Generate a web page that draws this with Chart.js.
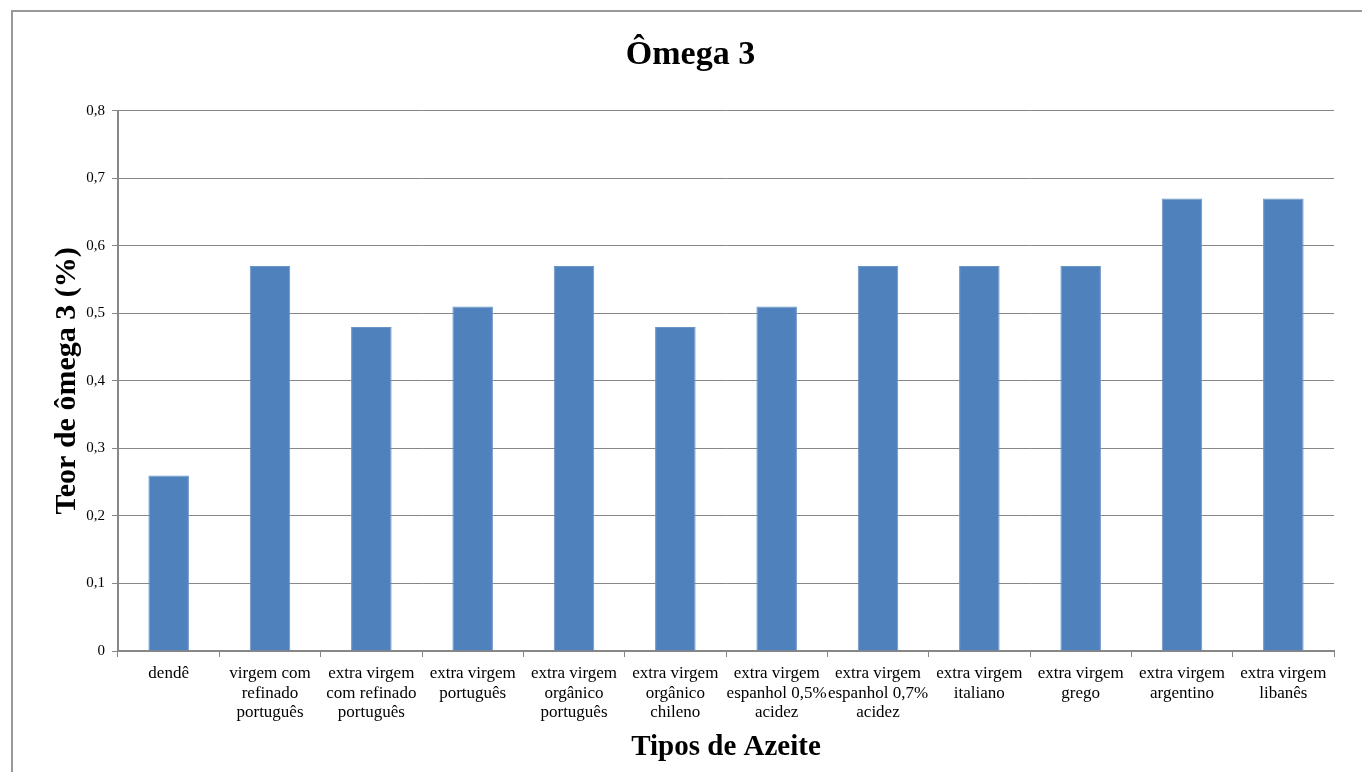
<!DOCTYPE html>
<html>
<head>
<meta charset="utf-8">
<script src="https://cdn.jsdelivr.net/npm/chart.js@4"></script>
<style>
  html, body { margin: 0; padding: 0; background: #fff; overflow: hidden; }
  #frame { position: absolute; left: 11px; top: 10px; width: 1400px; height: 800px; border: 2px solid #999; }
  #wrap { position: absolute; left: 0; top: 0; width: 1362px; height: 772px; }
</style>
</head>
<body>
<div id="frame"></div>
<div id="wrap"><canvas id="chartBar"></canvas></div>
<script>
const categories = [
  ["dendê"],
  ["virgem com", "refinado", "português"],
  ["extra virgem", "com refinado", "português"],
  ["extra virgem", "português"],
  ["extra virgem", "orgânico", "português"],
  ["extra virgem", "orgânico", "chileno"],
  ["extra virgem", "espanhol 0,5%", "acidez"],
  ["extra virgem", "espanhol 0,7%", "acidez"],
  ["extra virgem", "italiano"],
  ["extra virgem", "grego"],
  ["extra virgem", "argentino"],
  ["extra virgem", "libanês"]
];
const omega3 = [0.26, 0.57, 0.48, 0.51, 0.57, 0.48, 0.51, 0.57, 0.57, 0.57, 0.67, 0.67];
const yTicks = [0, 0.1, 0.2, 0.3, 0.4, 0.5, 0.6, 0.7, 0.8];

const SERIF = "'Liberation Serif', 'Times New Roman', serif";
const GRID = "#878787";

const ctx = document.getElementById("chartBar").getContext("2d");
const chart = new Chart(ctx, {
  type: "bar",
  data: {
    labels: categories,
    datasets: [
      { label: "Ômega 3", data: omega3, backgroundColor: "#4F81BD", borderColor: "#6a93c6", borderWidth: 1,
        categoryPercentage: 1, barPercentage: 0.4 }
    ]
  },
  options: {
    responsive: true,
    maintainAspectRatio: false,
    animation: false,
    layout: { padding: { left: 47, right: 28, top: 0, bottom: 0 } },
    plugins: {
      legend: { display: false },
      tooltip: { enabled: false },
      title: {
        display: true,
        text: "Ômega 3",
        color: "#000",
        font: { family: SERIF, size: 34, weight: "bold" },
        padding: { top: 35, bottom: 35 }
      }
    },
    scales: {
      y: {
        min: 0, max: 0.8,
        afterBuildTicks: s => { s.ticks = yTicks.map(v => ({ value: v })); },
        afterFit: s => { s.width = 71; },
        ticks: {
          color: "#000",
          font: { family: SERIF, size: 15 },
          padding: 7,
          callback: v => String(Math.round(v * 10) / 10).replace(".", ",")
        },
        grid: { color: GRID, lineWidth: 1, tickLength: 6, tickColor: GRID },
        border: { color: GRID, width: 2 },
        title: {
          display: true,
          text: "Teor de ômega 3 (%)",
          color: "#000",
          font: { family: SERIF, size: 30, weight: "bold" },
          padding: { top: 2, bottom: 0 }
        }
      },
      x: {
        afterFit: s => { s.height = 121; },
        ticks: {
          color: "#000",
          font: { family: SERIF, size: 17, lineHeight: 1.15 },
          maxRotation: 0,
          autoSkip: false,
          padding: 7
        },
        grid: { drawOnChartArea: false, color: GRID, tickLength: 6, offset: true },
        border: { color: GRID, width: 2 },
        title: {
          display: true,
          text: "Tipos de Azeite",
          color: "#000",
          font: { family: SERIF, size: 29, weight: "bold" },
          padding: { top: 0, bottom: 7 }
        }
      }
    }
  }
});
</script>
</body>
</html>
